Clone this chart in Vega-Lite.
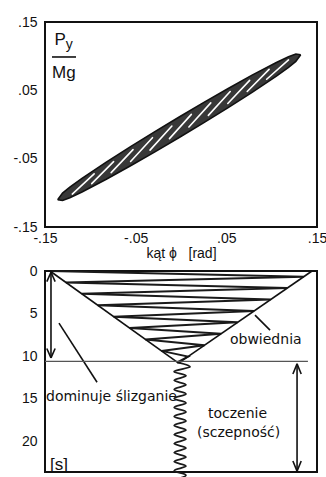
{
  "$schema": "https://vega.github.io/schema/vega-lite/v6.json",
  "background": "white",
  "padding": {"left": 11, "top": 14, "right": 4, "bottom": 0},
  "bounds": "flush",
  "spacing": 44,
  "config": {
    "view": {"stroke": "#111", "strokeWidth": 2},
    "axis": {"grid": false, "domain": false, "ticks": false, "tickSize": 0, "labelFont": "Liberation Sans", "labelFontSize": 14, "labelColor": "#111", "titleFont": "Liberation Sans", "titleFontSize": 14, "titleFontWeight": "normal", "titleColor": "#111", "labelFlush": false},
    "axisY": {"labelPadding": 8},
    "axisX": {"labelPadding": 4, "titlePadding": 1}
  },
  "datasets": {
    "lens": [
      {"phi": -0.136, "lo": -0.1100, "hi": -0.1100},
      {"phi": -0.13064, "lo": -0.1111, "hi": -0.1003},
      {"phi": -0.1226, "lo": -0.1071, "hi": -0.0917},
      {"phi": -0.1092, "lo": -0.0988, "hi": -0.0788},
      {"phi": -0.0824, "lo": -0.0802, "hi": -0.0551},
      {"phi": -0.0556, "lo": -0.0604, "hi": -0.0324},
      {"phi": -0.0288, "lo": -0.0400, "hi": -0.0104},
      {"phi": -0.002, "lo": -0.0190, "hi": 0.0110},
      {"phi": 0.0248, "lo": 0.0024, "hi": 0.0320},
      {"phi": 0.0516, "lo": 0.0244, "hi": 0.0524},
      {"phi": 0.0784, "lo": 0.0471, "hi": 0.0722},
      {"phi": 0.1052, "lo": 0.0708, "hi": 0.0908},
      {"phi": 0.1186, "lo": 0.0837, "hi": 0.0991},
      {"phi": 0.12664, "lo": 0.0924, "hi": 0.1032},
      {"phi": 0.132, "lo": 0.1020, "hi": 0.1020}
    ],
    "slits": [
      {"phi": -0.11992, "p": -0.1018, "phi2": -0.0958, "p2": -0.0722},
      {"phi": -0.09848, "p": -0.0865, "phi2": -0.07436, "p2": -0.0543},
      {"phi": -0.07704, "p": -0.0704, "phi2": -0.05292, "p2": -0.0367},
      {"phi": -0.0556, "p": -0.0541, "phi2": -0.03148, "p2": -0.0193},
      {"phi": -0.03416, "p": -0.0375, "phi2": -0.01004, "p2": -0.0022},
      {"phi": -0.01272, "p": -0.0207, "phi2": 0.0114, "p2": 0.0148},
      {"phi": 0.00872, "p": -0.0037, "phi2": 0.03284, "p2": 0.0316},
      {"phi": 0.03016, "p": 0.0134, "phi2": 0.05428, "p2": 0.0483},
      {"phi": 0.0516, "p": 0.0307, "phi2": 0.07572, "p2": 0.0646},
      {"phi": 0.07304, "p": 0.0483, "phi2": 0.09716, "p2": 0.0807},
      {"phi": 0.09448, "p": 0.0662, "phi2": 0.1186, "p2": 0.0945}
    ],
    "fracbar": [{"phi": -0.1423, "p": 0.0988, "phi2": -0.1158}],
    "ylabP": [{"phi": -0.1395, "p": 0.1163, "label": "P"}, {"phi": -0.1423, "p": 0.0681, "label": "Mg"}],
    "ylabSub": [{"phi": -0.1270, "p": 0.1100, "label": "y"}],
    "zig": [
      {"t": 0, "phi": -0.1445}, {"t": 0.67, "phi": 0.1354}, {"t": 1.34, "phi": -0.1270},
      {"t": 2.01, "phi": 0.1172}, {"t": 2.68, "phi": -0.1094}, {"t": 3.35, "phi": 0.0989},
      {"t": 4.02, "phi": -0.0918}, {"t": 4.69, "phi": 0.0807}, {"t": 5.36, "phi": -0.0743},
      {"t": 6.03, "phi": 0.0625}, {"t": 6.70, "phi": -0.0567}, {"t": 7.37, "phi": 0.0443},
      {"t": 8.04, "phi": -0.0392}, {"t": 8.71, "phi": 0.0260}, {"t": 9.38, "phi": -0.0216},
      {"t": 10.05, "phi": 0.0078}, {"t": 10.72, "phi": -0.0041}
    ],
    "wig": [
      {"t": 10.72, "phi": -0.0041}, {"t": 11.25, "phi": 0.0100}, {"t": 11.78, "phi": -0.0075},
      {"t": 12.31, "phi": 0.0055}, {"t": 12.84, "phi": -0.0075}, {"t": 13.37, "phi": 0.0055},
      {"t": 13.90, "phi": -0.0075}, {"t": 14.43, "phi": 0.0055}, {"t": 14.96, "phi": -0.0075},
      {"t": 15.49, "phi": 0.0055}, {"t": 16.02, "phi": -0.0075}, {"t": 16.55, "phi": 0.0055},
      {"t": 17.08, "phi": -0.0075}, {"t": 17.61, "phi": 0.0055}, {"t": 18.14, "phi": -0.0075},
      {"t": 18.67, "phi": 0.0055}, {"t": 19.20, "phi": -0.0075}, {"t": 19.73, "phi": 0.0055},
      {"t": 20.26, "phi": -0.0075}, {"t": 20.79, "phi": 0.0055}, {"t": 21.32, "phi": -0.0075},
      {"t": 21.85, "phi": 0.0055}, {"t": 22.38, "phi": -0.0075}, {"t": 22.91, "phi": 0.0055},
      {"t": 23.44, "phi": -0.0075}, {"t": 23.97, "phi": 0.0055}, {"t": 24.50, "phi": -0.0075}
    ],
    "arrows": [
      {"phi": -0.1434, "t": 0.15, "phi2": -0.1434, "t2": 10.2},
      {"phi": -0.1434, "t": 0.15, "phi2": -0.1480, "t2": 1.25},
      {"phi": -0.1434, "t": 0.15, "phi2": -0.1388, "t2": 1.25},
      {"phi": -0.1434, "t": 10.2, "phi2": -0.1480, "t2": 9.1},
      {"phi": -0.1434, "t": 10.2, "phi2": -0.1388, "t2": 9.1},
      {"phi": 0.128, "t": 10.9, "phi2": 0.128, "t2": 23.5},
      {"phi": 0.128, "t": 10.9, "phi2": 0.1234, "t2": 12.1},
      {"phi": 0.128, "t": 10.9, "phi2": 0.1326, "t2": 12.1},
      {"phi": 0.128, "t": 23.5, "phi2": 0.1234, "t2": 22.3},
      {"phi": 0.128, "t": 23.5, "phi2": 0.1326, "t2": 22.3},
      {"phi": -0.1346, "t": 6.12, "phi2": -0.0926, "t2": 13.06},
      {"phi": 0.0816, "t": 5.18, "phi2": 0.0982, "t2": 6.94},
      {"phi": -0.1445, "t": 0, "phi2": -0.0027, "t2": 10.82},
      {"phi": 0.1445, "t": 0, "phi2": -0.0027, "t2": 10.82}
    ],
    "hline": [{"phi": -0.15, "t": 10.6, "phi2": 0.140}],
    "notes": [
      {"phi": 0.054, "t": 8.6, "label": "obwiednia"},
      {"phi": -0.1489, "t": 15.3, "label": "dominuje ślizganie"},
      {"phi": 0.0298, "t": 17.3, "label": "toczenie"},
      {"phi": 0.0176, "t": 19.5, "label": "(sczepność)"}
    ],
    "unit": [{"phi": -0.1445, "t": 23.4, "label": "[s]"}],
    "t25": [{"phi": -0.1588, "t": 25, "label": "25"}]
  },
  "vconcat": [
    {
      "width": 272,
      "height": 205,
      "encoding": {
        "x": {"type": "quantitative", "scale": {"domain": [-0.15, 0.15], "nice": false, "zero": false},
              "title": "kąt ϕ\u00a0\u00a0\u00a0[rad]",
              "axis": {"values": [-0.15, -0.05, 0.05, 0.15], "labelExpr": "datum.value < 0 ? '-' + substring(format(abs(datum.value), '.2f'), 1) : substring(format(datum.value, '.2f'), 1)"}},
        "y": {"type": "quantitative", "scale": {"domain": [-0.15, 0.15], "nice": false, "zero": false},
              "title": null,
              "axis": {"values": [-0.15, -0.05, 0.05, 0.15], "labelExpr": "datum.value < 0 ? '-' + substring(format(abs(datum.value), '.2f'), 1) : substring(format(datum.value, '.2f'), 1)"}}
      },
      "layer": [
        {
          "data": {"name": "lens"},
          "mark": {"type": "area", "color": "#383838", "opacity": 1},
          "encoding": {"x": {"field": "phi"}, "y": {"field": "lo"}, "y2": {"field": "hi"}}
        },
        {
          "data": {"name": "lens"},
          "mark": {"type": "line", "color": "#111", "strokeWidth": 1.6},
          "encoding": {"x": {"field": "phi"}, "y": {"field": "lo"}}
        },
        {
          "data": {"name": "lens"},
          "mark": {"type": "line", "color": "#111", "strokeWidth": 1.6},
          "encoding": {"x": {"field": "phi"}, "y": {"field": "hi"}}
        },
        {
          "data": {"name": "slits"},
          "mark": {"type": "rule", "color": "white", "strokeWidth": 1.6, "strokeCap": "round"},
          "encoding": {"x": {"field": "phi"}, "y": {"field": "p"}, "x2": {"field": "phi2"}, "y2": {"field": "p2"}}
        },
        {
          "data": {"name": "fracbar"},
          "mark": {"type": "rule", "color": "#111", "strokeWidth": 1.6},
          "encoding": {"x": {"field": "phi"}, "y": {"field": "p"}, "x2": {"field": "phi2"}}
        },
        {
          "data": {"name": "ylabP"},
          "mark": {"type": "text", "font": "Liberation Sans", "fontSize": 17, "align": "left", "baseline": "alphabetic", "color": "#111"},
          "encoding": {"x": {"field": "phi"}, "y": {"field": "p"}, "text": {"field": "label"}}
        },
        {
          "data": {"name": "ylabSub"},
          "mark": {"type": "text", "font": "Liberation Sans", "fontSize": 14, "align": "left", "baseline": "alphabetic", "color": "#111"},
          "encoding": {"x": {"field": "phi"}, "y": {"field": "p"}, "text": {"field": "label"}}
        }
      ]
    },
    {
      "width": 272,
      "height": 201,
      "encoding": {
        "x": {"type": "quantitative", "scale": {"domain": [-0.15, 0.15], "nice": false, "zero": false}, "axis": null},
        "y": {"type": "quantitative", "scale": {"domain": [0, 23.6], "nice": false, "zero": false, "reverse": true},
              "title": null, "axis": {"values": [0, 5, 10, 15, 20]}}
      },
      "layer": [
        {
          "data": {"name": "zig"},
          "mark": {"type": "line", "color": "#1a1a1a", "strokeWidth": 2},
          "encoding": {"x": {"field": "phi"}, "y": {"field": "t"}, "order": {"field": "t", "type": "quantitative"}}
        },
        {
          "data": {"name": "wig"},
          "mark": {"type": "line", "color": "#1a1a1a", "strokeWidth": 1.8, "interpolate": "cardinal", "clip": false},
          "encoding": {"x": {"field": "phi"}, "y": {"field": "t"}, "order": {"field": "t", "type": "quantitative"}}
        },
        {
          "data": {"name": "arrows"},
          "mark": {"type": "rule", "color": "#111", "strokeWidth": 1.6, "clip": false},
          "encoding": {"x": {"field": "phi"}, "y": {"field": "t"}, "x2": {"field": "phi2"}, "y2": {"field": "t2"}}
        },
        {
          "data": {"name": "hline"},
          "mark": {"type": "rule", "color": "#555", "strokeWidth": 1.2},
          "encoding": {"x": {"field": "phi"}, "y": {"field": "t"}, "x2": {"field": "phi2"}}
        },
        {
          "data": {"name": "notes"},
          "mark": {"type": "text", "font": "DejaVu Sans", "fontSize": 14, "align": "left", "baseline": "alphabetic", "color": "#111"},
          "encoding": {"x": {"field": "phi"}, "y": {"field": "t"}, "text": {"field": "label"}}
        },
        {
          "data": {"name": "unit"},
          "mark": {"type": "text", "font": "Liberation Sans", "fontSize": 17, "align": "left", "baseline": "alphabetic", "color": "#111"},
          "encoding": {"x": {"field": "phi"}, "y": {"field": "t"}, "text": {"field": "label"}}
        },
        {
          "data": {"name": "t25"},
          "mark": {"type": "text", "font": "Liberation Sans", "fontSize": 14, "align": "right", "baseline": "middle", "color": "#111", "clip": false},
          "encoding": {"x": {"field": "phi"}, "y": {"field": "t"}, "text": {"field": "label"}}
        }
      ]
    }
  ]
}
